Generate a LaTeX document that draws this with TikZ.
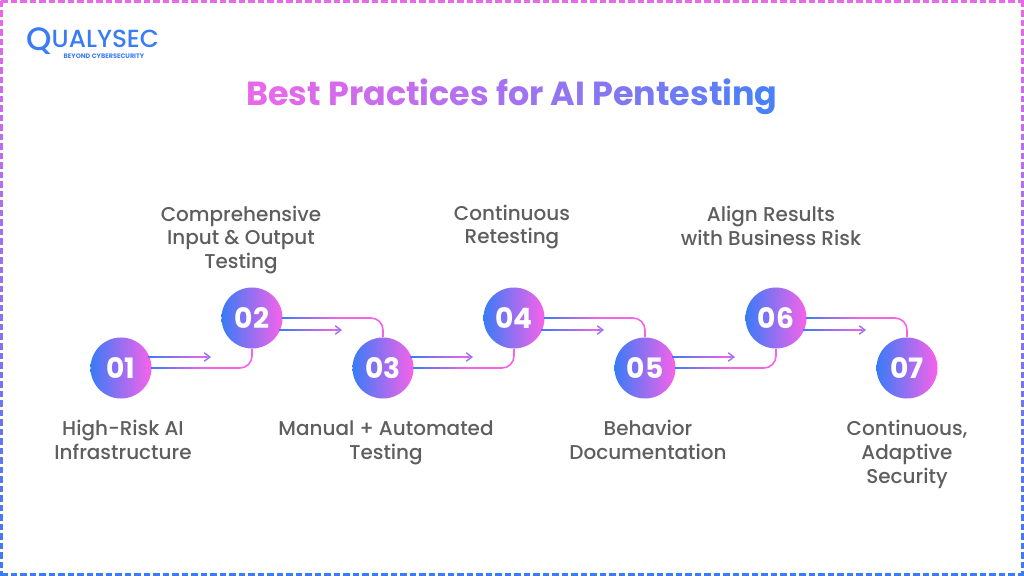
\documentclass[tikz,border=0pt]{standalone}
\usepackage{fontspec}
\setmainfont{Poppins}[UprightFont=* Medium, BoldFont=* Bold]
\usetikzlibrary{calc,arrows.meta}

\definecolor{brandblue}{HTML}{3A7BF6}
\definecolor{brandpink}{HTML}{F862EA}
\definecolor{titlepink}{HTML}{E868EA}
\definecolor{titleblue}{HTML}{4A80F8}
\definecolor{arrowpurple}{HTML}{9F6FF2}
\definecolor{labelgrey}{HTML}{5E5E5E}

\newcommand{\tl}[2]{\textcolor{titlepink!#1!titleblue}{#2}}

\tikzset{
  stepcircle/.style={circle, minimum size=1.525cm, inner sep=0pt, left color=brandblue, right color=brandpink,
                     text=white, font=\fontsize{20}{20}\selectfont\bfseries},
  steplabel/.style={align=center, text=labelgrey, font=\fontsize{14.2}{17}\selectfont},
  gradline/.style={left color=brandblue, right color=brandpink, draw=none},
  elbowline/.style={brandpink, line width=1.15pt, rounded corners=0.3cm},
  tipline/.style={arrowpurple, line width=1pt, -{Straight Barb[length=4pt, width=6pt]}}
}

\begin{document}
\begin{tikzpicture}[x=0.025cm, y=-0.025cm]
    \useasboundingbox (0,0) rectangle (1024,576);

    % frame
    \foreach \k in {0,...,107} {
      \fill[titlepink] (1+\k*9.5,0.3) rectangle ++(6.5,2.8);
      \fill[brandblue] (1+\k*9.5,572.8) rectangle ++(6.5,2.8);
    }
    \foreach \k in {0,...,60} {
      \pgfmathsetmacro{\mix}{100-\k*100/60}
      \fill[titlepink!\mix!brandblue] (0.3,1+\k*9.5) rectangle ++(2.8,6.5);
      \fill[titlepink!\mix!brandblue] (1020.9,1+\k*9.5) rectangle ++(2.8,6.5);
    }

    % logo
    \node[text=brandblue, inner sep=0pt, anchor=base west, font=\fontsize{17.6}{17.6}\selectfont] (logo) at (26,47.5)
      {\smash{\raisebox{-1.8pt}{\fontsize{23}{23}\selectfont Q}}UALYSEC};
    \node[text=brandblue, inner sep=0pt, font=\fontsize{4.6}{5}\selectfont\bfseries] (tagline) at (104,56) {BEYOND CYBERSECURITY};

    % title
    \node[font=\fontsize{23.75}{26}\selectfont\bfseries, inner sep=0pt] (title) at (512,97)
      {\tl{100}{B}\tl{98}{e}\tl{95}{s}\tl{92}{t} \tl{88}{P}\tl{85}{r}\tl{82}{a}\tl{79}{c}\tl{76}{t}\tl{73}{i}\tl{70}{c}\tl{67}{e}\tl{64}{s}
       \tl{58}{f}\tl{55}{o}\tl{52}{r} \tl{47}{A}\tl{44}{I} \tl{38}{P}\tl{34}{e}\tl{30}{n}\tl{26}{t}\tl{22}{e}\tl{18}{s}\tl{14}{t}\tl{10}{i}\tl{5}{n}\tl{0}{g}};

    % steps
    \node[stepcircle] (c01) at (121,368) {01};
    \node[stepcircle] (c02) at (252,318) {02};
    \node[stepcircle] (c03) at (383,368) {03};
    \node[stepcircle] (c04) at (514,318) {04};
    \node[stepcircle] (c05) at (645,368) {05};
    \node[stepcircle] (c06) at (776,318) {06};
    \node[stepcircle] (c07) at (907,368) {07};

    % labels
    \node[steplabel] (l01) at (123,440) {High-Risk AI\\Infrastructure};
    \node[steplabel] (l02) at (241,240) {Comprehensive\\Input \& Output\\Testing};
    \node[steplabel] (l03) at (386,443) {Manual + Automated\\Testing};
    \node[steplabel] (l04) at (512,227) {Continuous\\Retesting};
    \node[steplabel] (l05) at (648,440) {Behavior\\Documentation};
    \node[steplabel] (l06) at (771,226) {Align Results\\with Business Risk};
    \node[steplabel] (l07) at (907,454) {Continuous,\\Adaptive\\Security};

    % connectors
    \foreach \src/\dst/\side/\off in {c01/c02/south/-11, c02/c03/north/12, c03/c04/south/-11, c04/c05/north/12, c05/c06/south/-11, c06/c07/north/12} {
      \coordinate (afrom) at ($(\src.center)+(27,\off)$);
      \coordinate (ato)   at ($(\src.center)+(90,\off)$);
      \coordinate (lmid)  at ($(\src.center)+(85,0)$);
      \shade[gradline] ($(afrom)+(0,-0.8)$) rectangle ($(ato)+(-4,0.8)$);
      \shade[gradline] ($(\src.east)+(-1,-0.8)$) rectangle ($(lmid)+(0,0.8)$);
      \draw[tipline] ($(afrom)!0.9!(ato)$) -- (ato);
      \draw[elbowline] (lmid) -| (\dst.\side);
    }
  \end{tikzpicture}
\end{document}
